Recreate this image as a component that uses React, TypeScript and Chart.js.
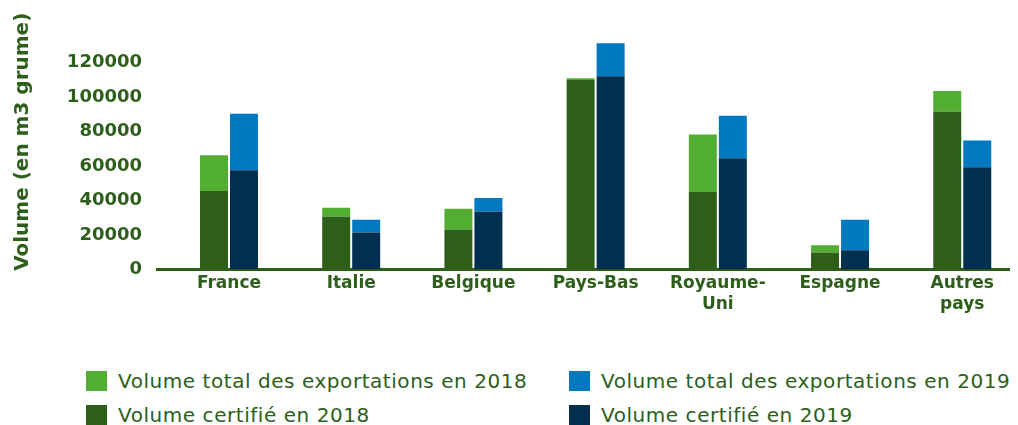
import React, { useEffect, useRef } from "react";
import { Chart, registerables } from "chart.js";

Chart.register(...registerables);

const categories: (string | string[])[] = [
  "France",
  "Italie",
  "Belgique",
  "Pays-Bas",
  ["Royaume-", "Uni"],
  "Espagne",
  ["Autres", "pays"],
];
const categoryIndex = [0, 1, 2, 3, 4, 5, 6];

const total2018 = [66200, 35800, 35200, 110800, 78300, 14000, 103500];
const certified2018 = [45500, 30600, 23100, 109800, 45000, 9900, 91500];
const total2019 = [90300, 28900, 41500, 131100, 89200, 28900, 74800];
const certified2019 = [57600, 21400, 33500, 112100, 64500, 11100, 59300];

const yTicks = [0, 20000, 40000, 60000, 80000, 100000, 120000];

const TEXT = "#2d5e1a";
const LIGHT_GREEN = "#52ad33";
const DARK_GREEN = "#2d5e1a";
const BLUE = "#0079c1";
const NAVY = "#002f4f";

const legendItems = [
  { label: "Volume total des exportations en 2018", color: LIGHT_GREEN, left: 78, top: 363 },
  { label: "Volume total des exportations en 2019", color: BLUE, left: 561, top: 363 },
  { label: "Volume certifié en 2018", color: DARK_GREEN, left: 78, top: 397 },
  { label: "Volume certifié en 2019", color: NAVY, left: 561, top: 397 },
];

export default function App() {
  const canvasRef = useRef<HTMLCanvasElement | null>(null);

  useEffect(() => {
    if (!canvasRef.current) return;
    const remainder2018 = total2018.map((t, i) => t - certified2018[i]);
    const remainder2019 = total2019.map((t, i) => t - certified2019[i]);
    const chart = new Chart(canvasRef.current, {
      type: "bar",
      data: {
        labels: categoryIndex,
        datasets: [
          { label: "Volume certifié en 2018", data: certified2018, backgroundColor: DARK_GREEN, stack: "2018" },
          { label: "Volume total des exportations en 2018", data: remainder2018, backgroundColor: LIGHT_GREEN, stack: "2018" },
          { label: "Volume certifié en 2019", data: certified2019, backgroundColor: NAVY, stack: "2019" },
          { label: "Volume total des exportations en 2019", data: remainder2019, backgroundColor: BLUE, stack: "2019" },
        ],
      },
      options: {
        animation: false,
        responsive: false,
        maintainAspectRatio: false,
        layout: { padding: { top: 20, right: 0, bottom: 0, left: 0 } },
        datasets: { bar: { categoryPercentage: 0.491, barPercentage: 0.933, borderWidth: 0 } },
        plugins: { legend: { display: false }, tooltip: { enabled: false } },
        scales: {
          x: {
            type: "linear",
            stacked: true,
            offset: false,
            min: -0.589,
            max: 6.407,
            grid: { display: false, drawTicks: false, offset: false },
            border: { display: true, color: DARK_GREEN, width: 3 },
            afterBuildTicks: (scale: any) => {
              scale.ticks = categoryIndex.map((v) => ({ value: v }));
            },
            afterFit: (scale: any) => {
              scale.paddingLeft = 0;
              scale.paddingRight = 0;
            },
            ticks: {
              autoSkip: false,
              maxRotation: 0,
              padding: 3,
              color: TEXT,
              font: { family: "DejaVu Sans", weight: "bold", size: 17, lineHeight: 1.25 },
              callback: (value: any) => categories[Number(value)] ?? "",
            },
          },
          y: {
            stacked: true,
            min: 0,
            max: 140000,
            grid: { display: false, drawTicks: false },
            border: { display: false },
            afterBuildTicks: (scale: any) => {
              scale.ticks = yTicks.map((v) => ({ value: v }));
            },
            afterFit: (scale: any) => {
              scale.width = 149;
              scale.paddingTop = 0;
              scale.paddingBottom = 0;
            },
            ticks: {
              padding: 15,
              color: TEXT,
              font: { family: "DejaVu Sans", weight: "bold", size: 18 },
              callback: (value: any) => String(value),
            },
            title: {
              display: true,
              text: "  Volume (en m3 grume)",
              color: TEXT,
              padding: { top: 3, bottom: 4 },
              font: { family: "DejaVu Sans", weight: "bold", size: 20 },
            },
          },
        },
      },
    });
    return () => chart.destroy();
  }, []);

  return (
    <div style={{ position: "relative", width: 1010, height: 417 }}>
      <canvas ref={canvasRef} width={1004} height={310} style={{ display: "block" }} />
      {legendItems.map((item) => (
        <div
          key={item.label}
          style={{
            position: "absolute",
            left: item.left,
            top: item.top,
            display: "flex",
            alignItems: "center",
            fontFamily: "DejaVu Sans",
            fontSize: 20,
            letterSpacing: "0.55px",
            lineHeight: "20px",
            color: TEXT,
            whiteSpace: "nowrap",
          }}
        >
          <span style={{ display: "inline-block", width: 21, height: 20, background: item.color, marginRight: 11 }} />
          <span>{item.label}</span>
        </div>
      ))}
    </div>
  );
}
